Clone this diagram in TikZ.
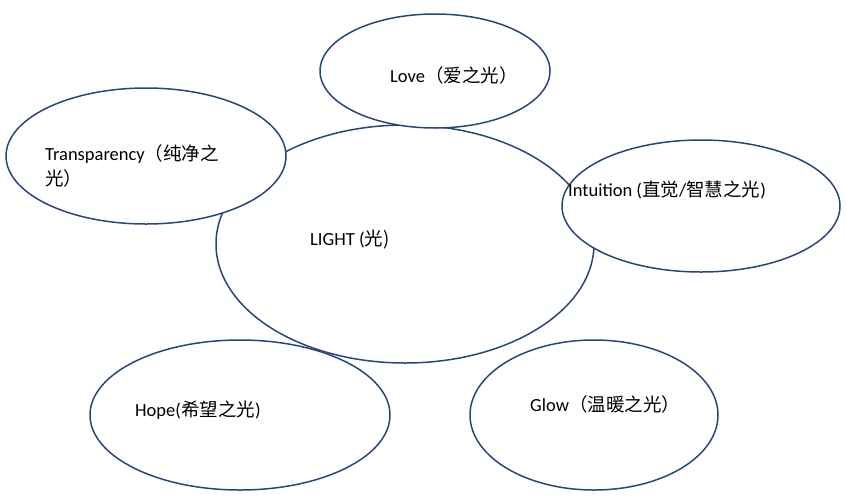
\documentclass[tikz,border=0pt]{standalone}
\usepackage{fontspec}
\setmainfont{Carlito}
\newfontfamily\cjk{Noto Sans CJK SC}
\usetikzlibrary{shapes.geometric,positioning}
\definecolor{lineblue}{RGB}{40,70,125}
\tikzstyle{bubble} = [ellipse, draw=lineblue, line width=1.5pt, fill=white, inner sep=0pt]
\tikzstyle{caption} = [anchor=west, inner sep=0pt, font=\fontsize{18.5}{25}\selectfont, align=left]

\begin{document}
\begin{tikzpicture}[x=1pt, y=-1pt]
\useasboundingbox (0,0) rectangle (846,499);
% Centre and surrounding bubbles
\node (light) [bubble, minimum width=378pt, minimum height=238pt] at (405,244) {};
\node (love) [bubble, minimum width=230pt, minimum height=114pt] at (435,71) {};
\node (transparency) [bubble, minimum width=280pt, minimum height=136pt] at (146,156) {};
\node (intuition) [bubble, minimum width=278pt, minimum height=132pt] at (701,206) {};
\node (hope) [bubble, minimum width=300pt, minimum height=150pt] at (240,415) {};
\node (glow) [bubble, minimum width=248pt, minimum height=150pt] at (594,415) {};

% Labels
\node (lighttext) [caption] at (310,240) {LIGHT (\cjk 光)};
\node (lovetext) [caption] at (390,75) {Love{\cjk（爱之光）}};
\node (transtext) [caption] at (45,166) {Transparency{\cjk（纯净之}\\{\cjk 光）}};
\node (intuitext) [caption] at (568,190) {Intuition ({\cjk 直觉}/{\cjk 智慧之光})};
\node (hopetext) [caption] at (135,410) {Hope({\cjk 希望之光})};
\node (glowtext) [caption] at (530,404) {Glow{\cjk（温暖之光）}};
\end{tikzpicture}
\end{document}
